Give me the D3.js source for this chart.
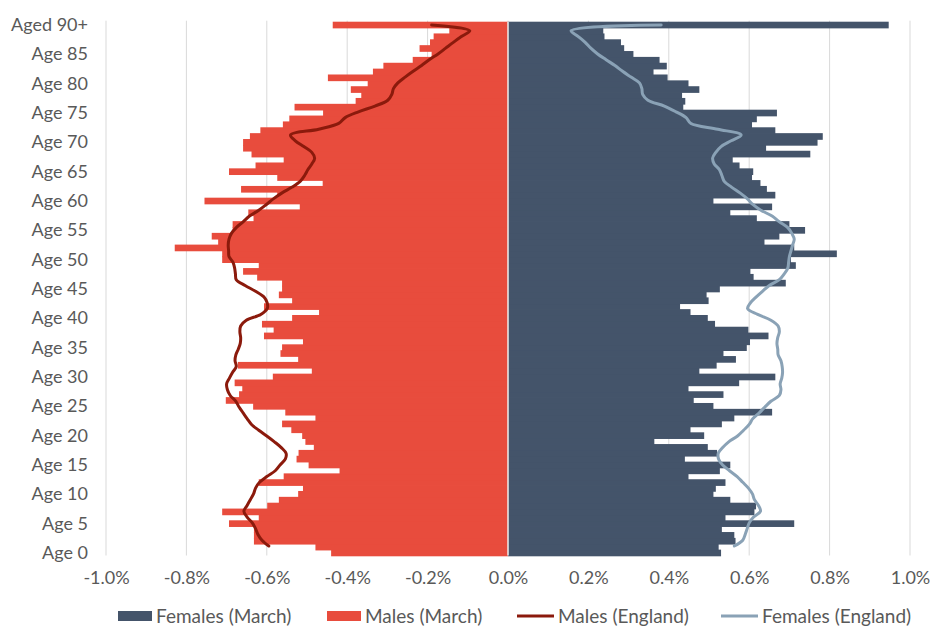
<!DOCTYPE html>
<html>
<head>
<meta charset="utf-8">
<script src="https://cdn.jsdelivr.net/npm/d3@7"></script>
<style>
  body { margin: 0; background: #fff; }
  svg text { font-family: Lato, "Open Sans", sans-serif; fill: #595959; }
</style>
</head>
<body>
<div id="chart"></div>
<script>
// ages 0..90 (90 = "Aged 90+"), values are % of population
const ages = d3.range(0, 91);

const malesMarch = [
  -0.440, -0.479, -0.632, -0.632, -0.632, -0.694, -0.620, -0.711, -0.599, -0.570,
  -0.522, -0.510, -0.620, -0.558, -0.419, -0.496, -0.526, -0.521, -0.483, -0.504,
  -0.512, -0.539, -0.562, -0.479, -0.554, -0.634, -0.702, -0.669, -0.661, -0.680,
  -0.585, -0.488, -0.672, -0.522, -0.566, -0.562, -0.510, -0.607, -0.583, -0.612,
  -0.537, -0.470, -0.607, -0.537, -0.570, -0.562, -0.562, -0.624, -0.659, -0.620,
  -0.711, -0.711, -0.829, -0.721, -0.737, -0.685, -0.685, -0.633, -0.646, -0.518,
  -0.755, -0.574, -0.664, -0.461, -0.574, -0.694, -0.628, -0.558, -0.638, -0.659,
  -0.659, -0.642, -0.616, -0.560, -0.544, -0.460, -0.531, -0.379, -0.365, -0.391,
  -0.349, -0.448, -0.336, -0.310, -0.237, -0.190, -0.220, -0.194, -0.185, -0.146,
  -0.436
];

const femalesMarch = [
  0.530, 0.524, 0.566, 0.563, 0.532, 0.712, 0.541, 0.613, 0.617, 0.553,
  0.511, 0.517, 0.541, 0.449, 0.527, 0.553, 0.440, 0.520, 0.497, 0.364,
  0.488, 0.454, 0.532, 0.563, 0.657, 0.511, 0.462, 0.536, 0.449, 0.575,
  0.665, 0.476, 0.519, 0.567, 0.536, 0.594, 0.602, 0.648, 0.598, 0.515,
  0.497, 0.454, 0.428, 0.499, 0.494, 0.527, 0.691, 0.611, 0.603, 0.716,
  0.704, 0.818, 0.712, 0.638, 0.675, 0.739, 0.700, 0.619, 0.553, 0.657,
  0.511, 0.665, 0.644, 0.628, 0.607, 0.610, 0.576, 0.559, 0.752, 0.642,
  0.770, 0.783, 0.665, 0.607, 0.619, 0.669, 0.436, 0.441, 0.433, 0.476,
  0.449, 0.397, 0.362, 0.395, 0.377, 0.312, 0.289, 0.281, 0.240, 0.237,
  0.947
];

const malesEngland = [
  -0.595, -0.612, -0.622, -0.628, -0.636, -0.649, -0.657, -0.649, -0.641, -0.633,
  -0.628, -0.618, -0.600, -0.579, -0.567, -0.554, -0.552, -0.564, -0.581, -0.600,
  -0.620, -0.638, -0.649, -0.659, -0.669, -0.677, -0.691, -0.698, -0.700, -0.693,
  -0.685, -0.676, -0.679, -0.677, -0.671, -0.666, -0.665, -0.667, -0.665, -0.651,
  -0.615, -0.599, -0.599, -0.607, -0.628, -0.654, -0.676, -0.678, -0.680, -0.684,
  -0.694, -0.695, -0.696, -0.694, -0.688, -0.676, -0.659, -0.643, -0.620, -0.601,
  -0.583, -0.562, -0.537, -0.517, -0.506, -0.498, -0.488, -0.481, -0.488, -0.508,
  -0.529, -0.541, -0.471, -0.421, -0.405, -0.372, -0.331, -0.299, -0.289, -0.285,
  -0.274, -0.256, -0.236, -0.215, -0.196, -0.174, -0.155, -0.136, -0.116, -0.095,
  -0.190
];

const femalesEngland = [
  0.563, 0.584, 0.590, 0.595, 0.600, 0.611, 0.628, 0.623, 0.613, 0.608,
  0.598, 0.584, 0.570, 0.551, 0.534, 0.524, 0.523, 0.534, 0.549, 0.571,
  0.586, 0.600, 0.609, 0.625, 0.639, 0.654, 0.675, 0.679, 0.677, 0.681,
  0.683, 0.682, 0.679, 0.672, 0.671, 0.669, 0.671, 0.675, 0.672, 0.654,
  0.621, 0.596, 0.603, 0.617, 0.633, 0.650, 0.675, 0.687, 0.696, 0.698,
  0.700, 0.704, 0.708, 0.712, 0.706, 0.696, 0.675, 0.657, 0.629, 0.609,
  0.595, 0.577, 0.556, 0.538, 0.532, 0.526, 0.513, 0.509, 0.517, 0.530,
  0.555, 0.580, 0.522, 0.455, 0.443, 0.418, 0.389, 0.348, 0.335, 0.333,
  0.327, 0.306, 0.285, 0.266, 0.244, 0.223, 0.206, 0.192, 0.175, 0.157,
  0.381
];

const xTicks = [-1, -0.8, -0.6, -0.4, -0.2, 0, 0.2, 0.4, 0.6, 0.8, 1];
const ageTicks = [0, 5, 10, 15, 20, 25, 30, 35, 40, 45, 50, 55, 60, 65, 70, 75, 80, 85, 90];
const ageLabel = a => a === 90 ? "Aged 90+" : "Age " + a;

const legendItems = [
  { name: "Females (March)", kind: "bar", color: "#44546a", x: 118 },
  { name: "Males (March)", kind: "bar", color: "#e84c3d", x: 327 },
  { name: "Males (England)", kind: "line", color: "#8b1a0c", x: 517 },
  { name: "Females (England)", kind: "line", color: "#8aa2b6", x: 721 }
];

const W = 930, H = 626;
const plot = { left: 106, right: 910, top: 21.7, bottom: 555.5 };

const svg = d3.select("#chart").append("svg")
    .attr("width", W)
    .attr("height", H);

const x = d3.scaleLinear()
    .domain([-1, 1])
    .range([plot.left, plot.right]);

const y = d3.scaleBand()
    .domain(ages.slice().reverse())
    .range([plot.top, plot.bottom])
    .padding(0);

// the England lines sit on their own (secondary) vertical scale
const yLine = d3.scaleLinear()
    .domain([0, 90])
    .range([546, 25]);

// gridlines
svg.append("g")
    .selectAll("line")
    .data(xTicks)
    .enter()
    .append("line")
    .attr("x1", d => x(d))
    .attr("x2", d => x(d))
    .attr("y1", plot.top - 1)
    .attr("y2", plot.bottom)
    .attr("stroke", "#d9d9d9")
    .attr("stroke-width", 1);

// bars (a hair taller than the band so no seams show between rows)
svg.append("g")
    .selectAll("rect")
    .data(ages)
    .enter()
    .append("rect")
    .attr("x", d => x(malesMarch[d]))
    .attr("y", d => y(d))
    .attr("width", d => x(0) - x(malesMarch[d]))
    .attr("height", y.bandwidth() + 0.8)
    .attr("fill", "#e84c3d");

svg.append("g")
    .selectAll("rect")
    .data(ages)
    .enter()
    .append("rect")
    .attr("x", x(0))
    .attr("y", d => y(d))
    .attr("width", d => x(femalesMarch[d]) - x(0))
    .attr("height", y.bandwidth() + 0.8)
    .attr("fill", "#44546a");

// zero axis
svg.append("line")
    .attr("x1", x(0))
    .attr("x2", x(0))
    .attr("y1", plot.top)
    .attr("y2", plot.bottom)
    .attr("stroke", "#eeeeee")
    .attr("stroke-width", 1.5);

// England lines
const lineGen = series => d3.line()
    .x(d => x(series[d]))
    .y(d => yLine(d))
    .curve(d3.curveCatmullRom.alpha(0.5));

svg.append("path")
    .datum(ages)
    .attr("d", lineGen(malesEngland))
    .attr("fill", "none")
    .attr("stroke", "#8b1a0c")
    .attr("stroke-width", 3)
    .attr("stroke-linejoin", "round")
    .attr("stroke-linecap", "round");

svg.append("path")
    .datum(ages)
    .attr("d", lineGen(femalesEngland))
    .attr("fill", "none")
    .attr("stroke", "#8aa2b6")
    .attr("stroke-width", 3)
    .attr("stroke-linejoin", "round")
    .attr("stroke-linecap", "round");

// x axis labels
const xAxis = d3.axisBottom(x)
    .tickValues(xTicks)
    .tickSize(0)
    .tickPadding(16)
    .tickFormat(d => (d < 0 ? "-" : "") + Math.abs(d).toFixed(1) + "%");

const xg = svg.append("g")
    .attr("transform", "translate(0," + plot.bottom + ")")
    .call(xAxis);
xg.select(".domain").remove();
xg.selectAll("text")
    .style("font-size", "18px")
    .attr("fill", "#595959");

// y axis labels
svg.append("g")
    .selectAll("text")
    .data(ageTicks)
    .enter()
    .append("text")
    .attr("x", 88)
    .attr("y", d => y(d) + y.bandwidth() / 2)
    .attr("dy", "0.35em")
    .attr("text-anchor", "end")
    .style("font-size", "18px")
    .text(ageLabel);

// legend
const legendY = 616;
const lg = svg.append("g");
legendItems.forEach(item => {
  if (item.kind === "bar") {
    lg.append("rect")
      .attr("x", item.x)
      .attr("y", legendY - 5)
      .attr("width", 34)
      .attr("height", 10)
      .attr("fill", item.color);
  } else {
    lg.append("line")
      .attr("x1", item.x)
      .attr("x2", item.x + 37)
      .attr("y1", legendY)
      .attr("y2", legendY)
      .attr("stroke", item.color)
      .attr("stroke-width", 3);
  }
  lg.append("text")
    .attr("x", item.x + (item.kind === "bar" ? 38 : 41))
    .attr("y", legendY)
    .attr("dy", "0.35em")
    .style("font-size", "19px")
    .text(item.name);
});
</script>
</body>
</html>
